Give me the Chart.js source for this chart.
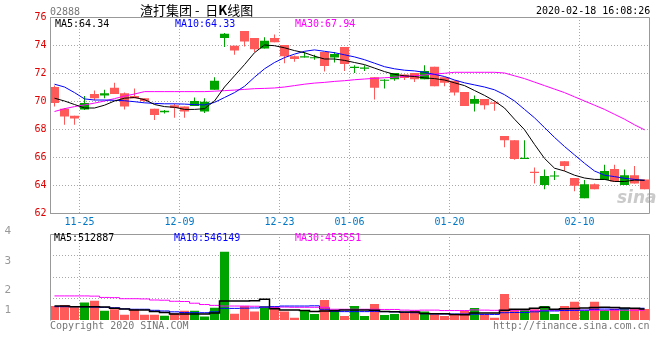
<!DOCTYPE html>
<html>
<head>
<meta charset="utf-8">
<script src="https://cdn.jsdelivr.net/npm/chart.js@4.4.1/dist/chart.umd.min.js"></script>
<style>
  body { margin: 0; background: #fff; width: 660px; height: 360px; position: relative; overflow: hidden; }
  canvas { position: absolute; left: 0; }
  #kline { top: 0; }
  #vol { top: 226px; }
  .t { position: absolute; white-space: pre; font: 10px "DejaVu Sans Mono", monospace; line-height: 12px; }
</style>
</head>
<body>
<canvas id="kline" width="660" height="232"></canvas>
<canvas id="vol" width="660" height="134"></canvas>

<div class="t" style="left:50px;top:6px;color:#777">02888</div>
<div class="t" style="left:140px;top:2px;font:13px 'Noto Sans CJK SC';line-height:16px;color:#000">渣打集团 -  日<b>K</b>线图</div>
<div class="t" style="left:536px;top:5px;color:#000">2020-02-18 16:08:26</div>

<div class="t" style="left:55px;top:18px;color:#000">MA5:64.34</div>
<div class="t" style="left:175px;top:18px;color:#0000ff">MA10:64.33</div>
<div class="t" style="left:295px;top:18px;color:#ff00ff">MA30:67.94</div>
<div class="t" style="left:617px;top:187px;font:italic bold 17px 'DejaVu Sans';line-height:20px;color:rgba(150,150,150,0.5)">sina</div>

<div class="t" style="left:54px;top:232px;color:#000">MA5:512887</div>
<div class="t" style="left:174px;top:232px;color:#0000ff">MA10:546149</div>
<div class="t" style="left:295px;top:232px;color:#ff00ff">MA30:453551</div>

<div class="t" style="left:50px;top:320px;color:#777">Copyright 2020 SINA.COM</div>
<div class="t" style="left:493px;top:320px;color:#777">http://finance.sina.com.cn</div>

<script>
// trading days shown, 2019-11-20 .. 2020-02-18
const dates = [
  '11-20','11-21','11-22','11-25','11-26','11-27','11-28','11-29','12-02','12-03',
  '12-04','12-05','12-06','12-09','12-10','12-11','12-12','12-13','12-16','12-17',
  '12-18','12-19','12-20','12-23','12-24','12-27','12-30','12-31','01-02','01-03',
  '01-06','01-07','01-08','01-09','01-10','01-13','01-14','01-15','01-16','01-17',
  '01-20','01-21','01-22','01-23','01-24','01-29','01-30','01-31','02-03','02-04',
  '02-05','02-06','02-07','02-10','02-11','02-12','02-13','02-14','02-17','02-18'
]
const shownDates = ['11-25', '12-09', '12-23', '01-06', '01-20', '02-10']
const priceTicks = [62, 64, 66, 68, 70, 72, 74, 76]

const opens = [
  69.85, 68.9, 68.75, 69.85, 70.2, 70.55, 70.5, 69.6, 70.2, 70.0,
  69.0, 69.3, 69.5, 69.25, 70.0, 69.95, 71.45, 74.8, 73.6, 74.25,
  73.7, 74.3, 74.2, 73.2, 73.0, 73.2, 73.1, 72.5, 73.35, 72.65,
  72.45, 72.4, 70.95, 71.5, 72.0, 71.65, 71.55, 72.15, 71.05, 71.3,
  70.6, 69.65, 70.15, 69.7, 69.8, 67.2, 65.85, 65.95, 64.85, 64.65,
  64.65, 65.35, 63.95, 64.05, 63.7, 65.0, 64.25, 64.7, 64.1, 63.7
]
const closes = [
  71.0, 69.45, 68.95, 69.4, 70.5, 70.4, 70.95, 70.55, 70.35, 70.2,
  69.45, 69.2, 69.7, 69.6, 69.65, 69.25, 70.8, 74.5, 73.95, 75.0,
  74.5, 73.75, 74.5, 74.0, 73.2, 73.1, 73.05, 73.5, 73.1, 73.85,
  72.35, 72.3, 71.7, 71.45, 71.55, 71.9, 72.0, 71.55, 72.45, 71.7,
  71.45, 70.65, 69.8, 70.15, 69.9, 67.5, 67.2, 65.85, 64.95, 64.0,
  64.6, 65.7, 64.5, 63.05, 64.05, 64.35, 65.15, 64.0, 64.7, 64.4
]
const highs = [
  71.1, 69.5, 68.95, 70.35, 70.75, 70.8, 71.3, 70.6, 70.9, 70.2,
  69.45, 69.35, 69.8, 69.6, 70.25, 70.2, 71.7, 74.85, 73.95, 75.0,
  74.5, 74.55, 74.75, 74.0, 73.25, 73.5, 73.3, 73.5, 73.5, 73.85,
  72.55, 72.55, 71.7, 71.55, 72.0, 71.9, 72.0, 72.55, 72.45, 71.7,
  71.45, 70.65, 70.4, 70.15, 70.0, 67.5, 67.2, 67.2, 65.25, 65.1,
  65.0, 65.7, 64.5, 64.35, 64.1, 65.45, 65.45, 65.1, 65.35, 64.4
]
const lows = [
  69.6, 68.3, 68.3, 69.35, 70.05, 70.2, 70.5, 69.4, 70.2, 69.95,
  68.65, 69.1, 68.8, 68.8, 69.65, 69.15, 70.8, 73.85, 73.3, 73.9,
  73.5, 73.75, 74.2, 72.7, 72.8, 73.1, 72.95, 72.1, 72.75, 72.15,
  72.0, 72.15, 70.1, 70.9, 71.45, 71.5, 71.35, 71.55, 71.05, 71.05,
  70.4, 69.65, 69.25, 69.4, 69.3, 66.7, 65.8, 65.85, 64.1, 63.7,
  64.35, 65.0, 63.55, 63.05, 63.7, 64.35, 64.25, 64.0, 64.1, 63.7
]

const ma5 = [
  70.2, 70.0, 69.75, 69.5, 69.5, 69.7, 70.0, 70.2, 70.25, 70.1,
  69.75, 69.6, 69.55, 69.4, 69.4, 69.45, 70.0, 71.0, 71.8, 72.6,
  73.45, 74.0, 73.95, 73.8, 73.6, 73.45, 73.2, 73.0, 73.0, 72.9,
  72.75, 72.6, 72.35, 72.1, 71.9, 71.8, 71.75, 71.65, 71.6, 71.5,
  71.3, 71.1, 70.75, 70.4, 70.0, 69.5, 68.7, 67.95, 66.9, 65.9,
  65.2, 65.0, 64.7, 64.5, 64.4, 64.4, 64.25, 64.25, 64.35, 64.34
]
const ma10 = [
  71.2, 71.0, 70.6, 70.15, 70.07, 70.07, 70.05, 70.02, 69.95, 69.87,
  69.83, 69.8, 69.8, 69.78, 69.74, 69.72, 69.9, 70.25, 70.6, 71.05,
  71.7, 72.3, 72.75, 73.1, 73.35, 73.55, 73.65, 73.55, 73.45, 73.3,
  73.15, 72.95, 72.7, 72.45, 72.3, 72.2, 72.15, 72.05, 71.9, 71.75,
  71.5, 71.3, 71.15, 71.0, 70.8, 70.45, 70.0, 69.4, 68.8, 68.1,
  67.4, 66.75, 66.15, 65.55, 65.0, 64.7, 64.6, 64.48, 64.4, 64.33
]
const ma30 = [
  69.25, 69.45, 69.6, 69.72, 69.85, 70.0, 70.17, 70.35, 70.5, 70.67,
  70.67, 70.67, 70.67, 70.67, 70.67, 70.67, 70.7, 70.74, 70.78, 70.83,
  70.88, 70.9, 70.93, 71.0, 71.1, 71.2, 71.28, 71.33, 71.4, 71.45,
  71.52, 71.57, 71.62, 71.66, 71.7, 71.75, 71.8, 71.86, 71.92, 71.98,
  72.05, 72.05, 72.05, 72.05, 72.05, 72.0, 71.8, 71.6, 71.35, 71.1,
  70.85, 70.6, 70.3, 70.0, 69.7, 69.4, 69.05, 68.7, 68.3, 67.94
]

// volume in shares
const volumes = [
  650000, 700000, 590000, 810000, 900000, 430000, 500000, 250000, 500000, 250000,
  250000, 200000, 310000, 430000, 430000, 160000, 570000, 3180000, 290000, 650000,
  390000, 650000, 620000, 390000, 110000, 430000, 280000, 930000, 500000, 190000,
  650000, 190000, 740000, 230000, 280000, 340000, 430000, 390000, 260000, 190000,
  230000, 430000, 560000, 260000, 110000, 1210000, 470000, 510000, 500000, 650000,
  280000, 650000, 850000, 420000, 850000, 470000, 520000, 560000, 510000, 510000
]
const volMa5 = [
  650000, 650000, 620000, 620000, 620000, 600000, 550000, 510000, 470000, 470000,
  390000, 350000, 280000, 280000, 280000, 280000, 330000, 880000, 880000, 880000,
  900000, 960000, 520000, 470000, 470000, 440000, 390000, 420000, 430000, 460000,
  470000, 460000, 450000, 400000, 380000, 370000, 370000, 300000, 290000, 290000,
  260000, 250000, 320000, 320000, 330000, 450000, 500000, 500000, 550000, 590000,
  500000, 520000, 540000, 560000, 580000, 590000, 580000, 560000, 550000, 512887
]
const volMa10 = [
  620000, 620000, 620000, 610000, 600000, 590000, 570000, 520000, 500000, 500000,
  450000, 420000, 380000, 350000, 340000, 340000, 380000, 540000, 540000, 550000,
  560000, 600000, 620000, 650000, 650000, 650000, 660000, 500000, 400000, 390000,
  390000, 390000, 400000, 390000, 380000, 350000, 340000, 290000, 280000, 280000,
  280000, 280000, 270000, 260000, 260000, 340000, 350000, 350000, 380000, 420000,
  420000, 440000, 450000, 460000, 500000, 510000, 500000, 520000, 530000, 546149
]
const volMa30 = [
  1120000, 1120000, 1120000, 1120000, 1110000, 1050000, 1040000, 990000, 990000, 980000,
  930000, 920000, 870000, 860000, 780000, 720000, 680000, 650000, 650000, 650000,
  640000, 600000, 600000, 600000, 590000, 590000, 590000, 590000, 500000, 500000,
  500000, 500000, 500000, 490000, 490000, 460000, 450000, 460000, 460000, 440000,
  440000, 440000, 470000, 460000, 450000, 450000, 450000, 460000, 450000, 450000,
  450000, 450000, 450000, 450000, 450000, 450000, 455000, 455000, 454000, 453551
]
const volTicks = [1000000, 2000000, 3000000]
const volTickLabels = ['4', '3', '2', '1']
const volTickLabelAt = [4140000, 2760000, 1400000, 470000]

const RED = '#ff5a5a'
const GREEN = '#00a400'
const GRID = '#a8a8a8'
const NONE = 'rgba(0,0,0,0)'
const MONO = { family: "'DejaVu Sans Mono', monospace", size: 10 }

const candleColors = closes.map((c, i) => (c >= opens[i] ? RED : GREEN))
const bodies = opens.map((o, i) => [o, closes[i]])
const wicks = lows.map((l, i) => [l, highs[i]])

// solid grey frame round the plot area
const frame = {
  id: 'frame',
  afterDatasetsDraw(chart, args, opts) {
    const { ctx, chartArea: a } = chart
    const l = Math.round(a.left) + 0.5
    const r = Math.round(a.right) - 0.5
    const t = Math.round(a.top) + 0.5
    const b = Math.round(a.bottom) + 0.5
    ctx.save()
    ctx.strokeStyle = '#999'
    ctx.lineWidth = 1
    ctx.beginPath()
    ctx.moveTo(l, b)
    ctx.lineTo(l, t)
    ctx.lineTo(r, t)
    ctx.lineTo(r, b)
    if (opts.bottom) ctx.lineTo(l, b)
    ctx.stroke()
    ctx.restore()
  },
}

const dateAxis = (showLabels) => ({
  type: 'category',
  offset: true,
  grid: {
    offset: true,
    drawTicks: false,
    color: (c) => (shownDates.includes(dates[c.index]) ? GRID : NONE),
  },
  border: { display: false, dash: [1, 2] },
  ticks: {
    display: showLabels,
    autoSkip: false,
    maxRotation: 0,
    labelOffset: -5,
    padding: 3,
    color: '#0078c8',
    font: MONO,
    callback: (v, i) => (shownDates.includes(dates[i]) ? dates[i] : ''),
  },
})

const maLine = (data, color, extra) => Object.assign({
  type: 'line',
  data,
  borderColor: color,
  borderWidth: 1,
  pointRadius: 0,
  order: 0,
}, extra)

new Chart(document.getElementById('kline'), {
  type: 'bar',
  data: {
    labels: dates,
    datasets: [
      maLine(ma5, '#000000'),
      maLine(ma10, '#0000ff'),
      maLine(ma30, '#ff00ff'),
      {
        data: bodies,
        backgroundColor: candleColors,
        barThickness: 9,
        minBarLength: 1,
        grouped: false,
        inflateAmount: 0,
        order: 1,
      },
      {
        data: wicks,
        backgroundColor: candleColors,
        barThickness: 1,
        grouped: false,
        inflateAmount: 0,
        order: 2,
      },
    ],
  },
  options: {
    responsive: false,
    animation: false,
    events: [],
    layout: { padding: { top: 17, right: 10.5, left: 0, bottom: 0 } },
    plugins: { legend: { display: false }, tooltip: { enabled: false }, frame: { bottom: true } },
    scales: {
      x: Object.assign(dateAxis(true), { afterFit: (s) => { s.height = 19 } }),
      y: {
        min: priceTicks[0],
        max: priceTicks[priceTicks.length - 1],
        afterBuildTicks: (s) => { s.ticks = priceTicks.map((v) => ({ value: v })) },
        grid: { color: GRID, drawTicks: false },
        border: { display: false, dash: [1, 2] },
        ticks: { color: '#e00000', padding: 3, font: MONO },
        afterFit: (s) => { s.width = 49.5 },
      },
    },
  },
  plugins: [frame],
})

new Chart(document.getElementById('vol'), {
  type: 'bar',
  data: {
    labels: dates,
    datasets: [
      maLine(volMa5, '#000000', { stepped: 'middle', borderWidth: 1.5, yAxisID: 'y' }),
      maLine(volMa10, '#0000ff', { stepped: 'middle', yAxisID: 'y' }),
      maLine(volMa30, '#ff00ff', { stepped: 'middle', yAxisID: 'y' }),
      {
        data: volumes,
        backgroundColor: candleColors,
        barThickness: 9,
        grouped: false,
        inflateAmount: 0,
        yAxisID: 'y',
        order: 1,
      },
    ],
  },
  options: {
    responsive: false,
    animation: false,
    events: [],
    layout: { padding: { top: 8, right: 10.5, left: 0, bottom: 0 } },
    plugins: { legend: { display: false }, tooltip: { enabled: false }, frame: { bottom: false } },
    scales: {
      x: Object.assign(dateAxis(false), { afterFit: (s) => { s.height = 40 } }),
      // volume values: dotted grid at 1M / 2M / 3M
      y: {
        type: 'linear',
        position: 'left',
        weight: 0,
        min: 0,
        max: 4000000,
        afterBuildTicks: (s) => { s.ticks = volTicks.map((v) => ({ value: v })) },
        grid: { color: GRID, drawTicks: false },
        border: { display: false, dash: [1, 2] },
        ticks: { display: false },
        afterFit: (s) => { s.width = 38.5 },
      },
      // the grey 4/3/2/1 labels, which sit where Sina puts them
      yl: {
        type: 'linear',
        axis: 'y',
        position: 'left',
        weight: 1,
        min: 0,
        max: 4000000,
        afterBuildTicks: (s) => { s.ticks = volTickLabelAt.map((v) => ({ value: v })) },
        grid: { display: false, drawTicks: false },
        border: { display: false },
        ticks: {
          color: '#999',
          padding: 0,
          font: { family: "'DejaVu Sans Mono', monospace", size: 11 },
          callback: (v, i) => volTickLabels[i],
        },
        afterFit: (s) => { s.width = 11 },
      },
    },
  },
  plugins: [frame],
})
</script>
</body>
</html>
